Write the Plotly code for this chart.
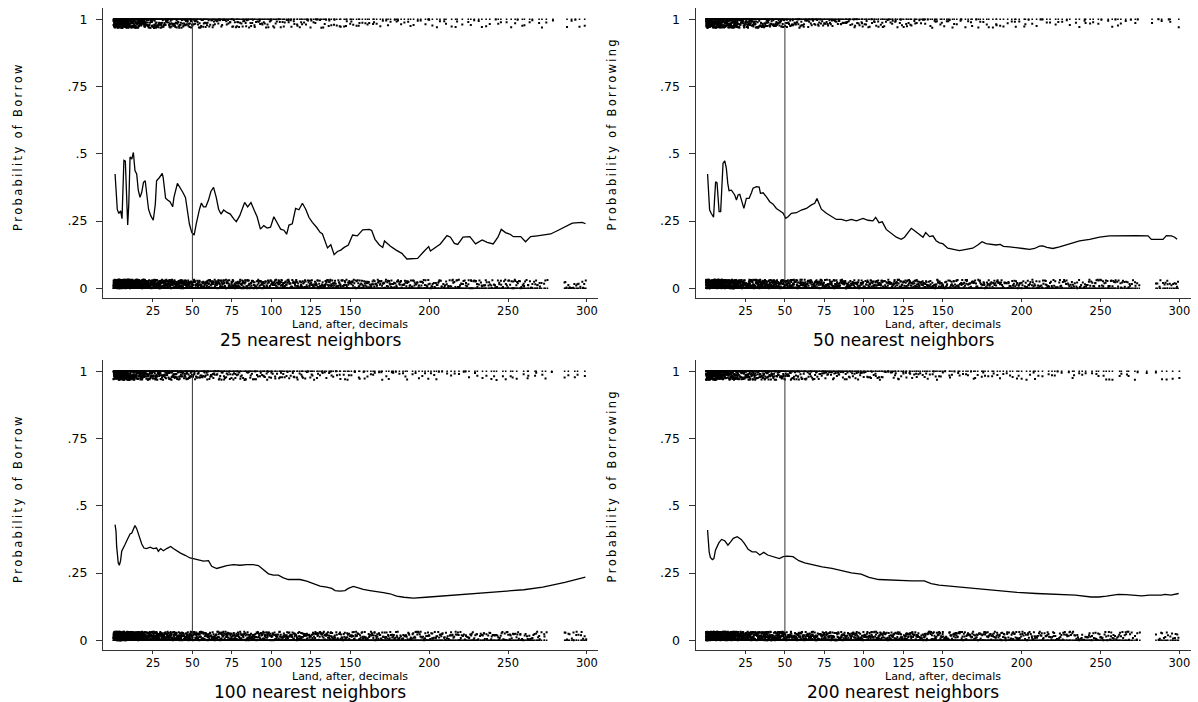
import math
import plotly.graph_objects as go

# ---------------- data ----------------
x_ticks = [25, 50, 75, 100, 125, 150, 200, 250, 300]
x_tick_labels = ["25", "50", "75", "100", "125", "150", "200", "250", "300"]
y_ticks = [0, 0.25, 0.5, 0.75, 1]
y_tick_labels = ["0", ".25", ".5", ".75", "1"]
cutoff = 50

panel_titles = ["25 nearest neighbors", "50 nearest neighbors",
                "100 nearest neighbors", "200 nearest neighbors"]
y_titles = ["Probability of Borrow", "Probability of Borrowing",
            "Probability of Borrow", "Probability of Borrowing"]
x_title = "Land, after, decimals"

# smoothed probability of borrowing (x = land, y = probability)
smooth_25nn = [
    (1, .425), (1.6, .34), (2.4, .293), (3.4, .278), (4.5, .288), (5.4, .259), (6, .362), (6.6, .476),
    (7.5, .473), (8, .362), (8.4, .283), (9, .235), (9.7, .314), (10.5, .488), (11.6, .48), (12.6, .505),
    (13.6, .438), (14.7, .425), (15.7, .365), (16.8, .338), (17.9, .357), (19, .394), (20.1, .4), (21.1, .35),
    (22.2, .294), (23.6, .27), (25.2, .253), (26.5, .313), (27.3, .4), (29, .411), (30.9, .427), (31.5, .411),
    (33, .335), (34.3, .328), (35.8, .322), (37.5, .303), (38.3, .338), (40.5, .39), (42.2, .375), (43.9, .357),
    (45.6, .338), (46.9, .276), (48.1, .239), (49.6, .208), (51.1, .198), (52.4, .239), (53.4, .27), (54.5, .294),
    (55.7, .317), (57, .303), (58.5, .303), (60.2, .328), (61.7, .36), (63.4, .375), (65.1, .338), (66.6, .294),
    (68.1, .276), (69.8, .291), (71.9, .282), (74, .276), (76.2, .258), (77.8, .248), (80, .27), (81.6, .294),
    (83.1, .319), (85, .303), (87.1, .319), (89.3, .288), (91, .266), (93.1, .22), (95.2, .233), (97.4, .224),
    (99.5, .227), (101.6, .266), (103.7, .245), (105.9, .22), (108, .216), (109.7, .201), (111.2, .235),
    (113.3, .24), (115.4, .297), (117.5, .292), (119.7, .316), (121.8, .294), (123.9, .263), (126, .245),
    (128.8, .226), (130.9, .208), (132.4, .202), (133.9, .18), (135.6, .15), (137.7, .162), (139.8, .125),
    (141.9, .137), (144, .142), (146.2, .152), (148.8, .161), (151.5, .198), (154.5, .195), (157.9, .217),
    (162.1, .219), (163.6, .215), (165.7, .182), (168.5, .161), (170.6, .152), (171.7, .176), (175.3, .157),
    (179.1, .142), (182.7, .130), (185.9, .109), (189.1, .111), (192.7, .111), (196.5, .136), (199.7, .155),
    (200.8, .139), (207.1, .165), (211.3, .196), (213.5, .19), (216, .167), (218.1, .163), (221.5, .19),
    (225.8, .192), (229.4, .165), (233.6, .18), (236.8, .171), (240.6, .165), (243.6, .19), (245.7, .219),
    (248.4, .207), (251.6, .2), (253.3, .192), (258, .192), (261.1, .173), (264.3, .192), (268.5, .195),
    (277, .202), (281.2, .214), (285.4, .227), (290.7, .242), (297, .245), (299.1, .24),
]
smooth_50nn = [
    (1, .425), (1.6, .34), (2.3, .291), (3.3, .279), (4, .269), (4.8, .264), (5.4, .328), (6.1, .396),
    (7, .392), (7.6, .353), (8.3, .285), (9.3, .285), (10, .378), (10.8, .465), (11.9, .474), (12.9, .446),
    (13.8, .39), (14.6, .363), (16.1, .365), (17.2, .353), (18.2, .347), (19.3, .328), (20.3, .347),
    (21.4, .349), (22.5, .328), (24, .297), (25.6, .334), (27.3, .334), (28.8, .355), (29.8, .372), (32, .378),
    (33.7, .376), (34.5, .353), (36.2, .355), (38.3, .34), (40.4, .322), (42.5, .313), (44.6, .297),
    (46.7, .288), (48.9, .279), (50.5, .26), (52, .266), (54.1, .279), (57.3, .281), (60.4, .291), (63.6, .297),
    (66.8, .31), (68.9, .316), (70.3, .334), (71.6, .316), (73.1, .294), (76.3, .279), (79.4, .269),
    (82.6, .256), (85.8, .256), (88.9, .251), (92.1, .256), (95.3, .251), (99.5, .26), (102.7, .253),
    (105.8, .251), (107.5, .264), (109.6, .244), (111.7, .247), (114.2, .219), (117.4, .204), (120.6, .19),
    (123.7, .182), (125.8, .19), (128, .207), (130.1, .223), (132.8, .211), (135.4, .198), (137.5, .19),
    (139.2, .207), (141.7, .192), (143.8, .195), (145.8, .177), (147.9, .169), (150, .166), (153.2, .149),
    (156.4, .145), (160.6, .14), (164.8, .145), (169, .149), (172.2, .161), (174.9, .173), (177.5, .166),
    (180.6, .164), (183.8, .161), (186.4, .163), (188.5, .156), (192.3, .154), (196.5, .15), (200.8, .148),
    (205, .145), (208.2, .148), (211.3, .157), (213.4, .158), (216, .152), (219.8, .148), (224, .154),
    (228.2, .161), (232.5, .171), (236.7, .176), (243.1, .182), (249.4, .19), (255.7, .195), (264.2, .196),
    (272.7, .196), (280.1, .195), (282.2, .182), (289.6, .182), (291.7, .196), (294.9, .195), (297, .19),
    (298.5, .182),
]
smooth_100nn = [
    (1, .43), (1.6, .405), (2, .349), (2.4, .312), (3, .288), (3.7, .279), (4.5, .296), (5.2, .331),
    (6.2, .341), (7.3, .356), (8.4, .37), (9.4, .38), (10.5, .395), (11.6, .399), (12.6, .417), (13.6, .427),
    (14.7, .415), (15.7, .395), (16.8, .37), (17.9, .358), (19.3, .343), (21, .341), (23.2, .346), (25.2, .341),
    (27.3, .343), (28.4, .331), (29.9, .341), (31.6, .333), (33.7, .341), (36.2, .349), (37.9, .341), (40, .333),
    (42.2, .325), (45.4, .316), (48.5, .306), (50.6, .304), (53.8, .3), (57, .294), (60.2, .296), (62.2, .275),
    (65.4, .267), (68.6, .272), (71.8, .278), (76, .281), (80.2, .279), (84.4, .281), (88.6, .281),
    (91.8, .278), (94.9, .263), (98.2, .247), (101.3, .242), (104.5, .242), (107.6, .232), (110.8, .226),
    (114, .226), (118.2, .226), (122.4, .22), (126.6, .21), (130.9, .201), (135.1, .198), (138.3, .193),
    (140.4, .185), (143.6, .183), (146.7, .185), (148.8, .193), (152, .2), (155.2, .193), (158.3, .189),
    (162.5, .185), (166.7, .18), (171, .177), (175.2, .173), (179.4, .164), (184, .16), (190, .157),
    (198, .16), (210, .165), (222, .172), (235, .175), (247, .18), (260, .188), (272, .198), (286, .215),
    (299, .235),
]
smooth_200nn = [
    (1, .41), (1.5, .36), (2, .329), (2.8, .308), (4, .3), (5, .304), (6, .335), (8.2, .363), (9.9, .375),
    (11.9, .37), (13.9, .354), (15.6, .366), (17.3, .379), (19.8, .385), (22.3, .375), (24.3, .36),
    (26.7, .338), (29.2, .329), (31.7, .329), (34.1, .317), (36.6, .327), (39.1, .317), (42.8, .311),
    (46.5, .304), (48.9, .311), (51.4, .313), (55.1, .311), (58.8, .296), (62.5, .288), (67.5, .28),
    (73.6, .273), (79.8, .267), (86, .258), (92.1, .251), (98.3, .246), (103.3, .234), (109.4, .226),
    (115.6, .224), (123, .224), (130.4, .221), (138.3, .221), (142.7, .211), (147.7, .205), (155.1, .201),
    (162.5, .195), (172.4, .189), (184.7, .184), (197.1, .178), (209.4, .174), (221.7, .171), (234.1, .168),
    (244, .161), (248.9, .161), (253.8, .164), (261.2, .171), (266.2, .17), (276.1, .165), (281, .168),
    (288.4, .168), (290.9, .171), (294.6, .168), (299.5, .174),
]

# raw observations (borrowed = 1 / not borrowed = 0), counted per land bin
bin_edges = [0, 10, 20, 30, 40, 50, 60, 70, 80, 90, 100, 110, 120, 130, 140, 150, 160, 170, 180,
             190, 200, 210, 220, 230, 240, 250, 260, 270, 275, 285, 300]
n_borrowers = [160, 90, 50, 40, 34, 24, 20, 18, 16, 14, 12, 11, 10, 9, 8, 7, 6, 6, 5, 5, 5, 4, 4,
               4, 4, 4, 4, 2, 1, 5]
n_nonborrowers = [300, 170, 100, 85, 75, 55, 50, 48, 45, 42, 40, 38, 36, 34, 32, 30, 28, 27, 25,
                  24, 20, 19, 18, 17, 18, 18, 15, 5, 0, 16]

smooths = [smooth_25nn, smooth_50nn, smooth_100nn, smooth_200nn]

# ---------------- layout geometry ----------------
W, H = 1198, 702
x_domains = [[103 / W, 598 / W], [695.5 / W, 1190.5 / W]]
y_domains = [[1 - 297.5 / H, 1 - 8.3 / H], [1 - 649.5 / H, 1 - 360.3 / H]]
x_range = [-6.65, 307]
y_range = [-0.0342, 1.0409]
FONT = "DejaVu Sans"
AX_COL = "#333333"
JIT = 0.032


def hash01(k, seed):
    """Deterministic scatter offset in [0, 1) used only for display jitter."""
    v = math.sin(k * 12.9898 + seed * 78.233) * 43758.5453
    return v - math.floor(v)


def band(value, counts, seed):
    """Expand bin counts to markers with a small display jitter (like Stata's jitter())."""
    xs, ys, xe, ye = [], [], [], []
    k = 0
    for lo, hi, n in zip(bin_edges[:-1], bin_edges[1:], counts):
        step = (hi - lo) / n if n else 0
        for j in range(n):
            k += 1
            xv = lo + (j + 0.5) * step + (hash01(k, seed + 3.1) - 0.5) * step
            jv = hash01(k, seed) * JIT
            xs.append(xv)
            ys.append(1 - jv if value == 1 else jv)
            xe.append(xv)
            ye.append(value)
    return xs, ys, xe, ye


fig = go.Figure()
annotations = []
shapes = []

for i in range(4):
    col, row = i % 2, i // 2
    ax_id = "" if i == 0 else str(i + 1)
    xref, yref = "x" + ax_id, "y" + ax_id

    for val, counts in ((1, n_borrowers), (0, n_nonborrowers)):
        xs, ys, xe, ye = band(val, counts, 1.3 * (i + 1) + 0.57 * val)
        fig.add_trace(go.Scatter(x=xs, y=ys, mode="markers", xaxis=xref, yaxis=yref,
                                 marker=dict(symbol="square", size=2, color="black",
                                             line=dict(width=0)),
                                 hoverinfo="skip", showlegend=False))
        fig.add_trace(go.Scatter(x=xe, y=ye, mode="markers", xaxis=xref, yaxis=yref,
                                 marker=dict(symbol="square", size=1.6, color="black",
                                             line=dict(width=0)),
                                 hoverinfo="skip", showlegend=False))

    sx = [p[0] for p in smooths[i]]
    sy = [p[1] for p in smooths[i]]
    fig.add_trace(go.Scatter(x=sx, y=sy, mode="lines", xaxis=xref, yaxis=yref,
                             line=dict(color="black", width=1.3),
                             hoverinfo="skip", showlegend=False))

    shapes.append(dict(type="line", xref=xref, yref=yref, x0=cutoff, x1=cutoff,
                       y0=0.028, y1=0.99, line=dict(color=AX_COL, width=1)))

    fig.update_layout(**{
        "xaxis" + ax_id: dict(domain=x_domains[col], range=x_range, anchor=yref,
                              tickmode="array", tickvals=x_ticks, ticktext=x_tick_labels,
                              ticks="outside", ticklen=3, tickwidth=1, tickcolor=AX_COL,
                              showline=True, linecolor=AX_COL, linewidth=1,
                              showgrid=False, zeroline=False,
                              tickfont=dict(family=FONT, size=11.5, color="black")),
        "yaxis" + ax_id: dict(domain=y_domains[row], range=y_range, anchor=xref,
                              tickmode="array", tickvals=y_ticks, ticktext=y_tick_labels,
                              ticks="outside", ticklen=6, tickwidth=1, tickcolor=AX_COL,
                              showline=True, linecolor=AX_COL, linewidth=1,
                              showgrid=False, zeroline=False, ticklabelstandoff=6,
                              tickfont=dict(family=FONT, size=12.5, color="black")),
    })

    dx = 593 * col
    dy = 352 * row
    ytxt = "\u2009".join(list(y_titles[i]))
    annotations.append(dict(text=ytxt, xref="paper", yref="paper",
                            x=(18 + dx) / W, y=1 - (233 + dy) / H,
                            xanchor="center", yanchor="bottom", textangle=-90, showarrow=False,
                            font=dict(family=FONT, size=11.5, color="black")))
    annotations.append(dict(text=x_title, xref="paper", yref="paper",
                            x=(350 + dx) / W, y=1 - (324 + dy) / H,
                            xanchor="center", yanchor="middle", showarrow=False,
                            font=dict(family=FONT, size=11, color="black")))
    annotations.append(dict(text=panel_titles[i], xref="paper", yref="paper",
                            x=(310 + dx) / W, y=1 - (340 + dy) / H,
                            xanchor="center", yanchor="middle", showarrow=False,
                            font=dict(family=FONT, size=17, color="black")))

fig.update_layout(width=W, height=H, margin=dict(l=0, r=0, t=0, b=0),
                  paper_bgcolor="white", plot_bgcolor="white",
                  annotations=annotations, shapes=shapes, showlegend=False)

fig.write_html("out.html")
